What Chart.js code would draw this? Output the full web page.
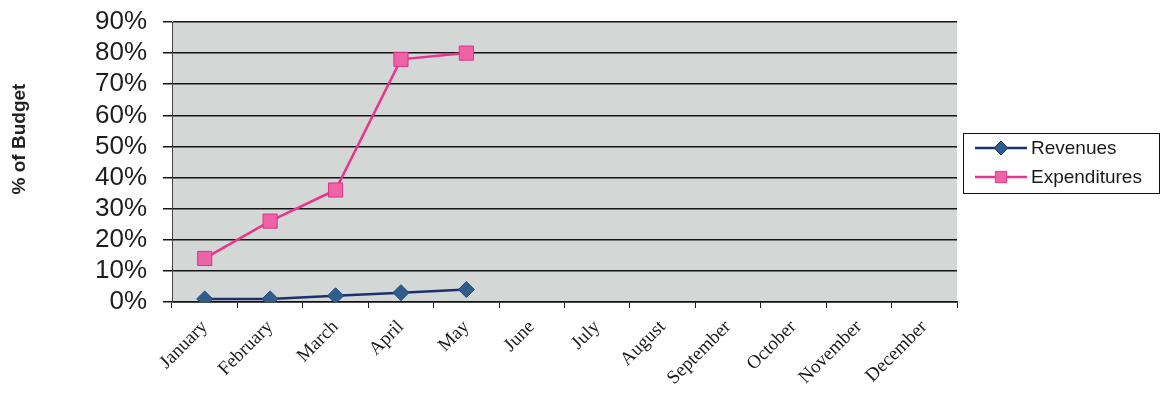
<!DOCTYPE html>
<html>
<head>
<meta charset="utf-8">
<script src="https://cdn.jsdelivr.net/npm/chart.js@4/dist/chart.umd.min.js"></script>
<style>
  html, body { margin: 0; padding: 0; background: #ffffff; }
  #wrap { width: 1161px; height: 394px; }
</style>
</head>
<body>
<div id="wrap"><canvas id="budget" width="1161" height="394"></canvas></div>
<script>
// Monthly budget progress (% of annual budget)
const months = ['January', 'February', 'March', 'April', 'May', 'June', 'July',
  'August', 'September', 'October', 'November', 'December'];
const revenues = [1, 1, 2, 3, 4, null, null, null, null, null, null, null];
const expenditures = [14, 26, 36, 78, 80, null, null, null, null, null, null, null];
const yTicks = [0, 10, 20, 30, 40, 50, 60, 70, 80, 90];
const yTitle = '% of Budget';
const seriesNames = ['Revenues', 'Expenditures'];

const REV_LINE = '#1d2f6c';
const REV_FILL = '#2f5e8d';
const EXP_LINE = '#e8358e';
const EXP_FILL = '#ee62a6';

// Grey plot-area background
const plotBackground = {
  id: 'plotBackground',
  beforeDraw(chart) {
    const { ctx, chartArea: a } = chart;
    ctx.save();
    ctx.fillStyle = '#d3d7d6';
    ctx.fillRect(a.left, a.top, a.right - a.left, a.bottom - a.top);
    ctx.restore();
  }
};

// Vertical axis title and the boxed legend at the right
const sideText = {
  id: 'sideText',
  afterDraw(chart) {
    const { ctx } = chart;
    ctx.save();
    ctx.fillStyle = '#222';
    ctx.font = 'bold 19px "Liberation Sans", Arial, sans-serif';
    ctx.textAlign = 'center';
    ctx.textBaseline = 'middle';
    ctx.translate(20, 139);
    ctx.rotate(-Math.PI / 2);
    ctx.fillText(yTitle, 0, 0);
    ctx.restore();

    // legend
    ctx.save();
    ctx.strokeStyle = '#111';
    ctx.lineWidth = 1;
    ctx.strokeRect(963.5, 133.5, 196, 60);
    const rows = [
      { y: 148, line: REV_LINE, fill: REV_FILL, style: 'rectRot', r: 7, border: REV_LINE },
      { y: 177, line: EXP_LINE, fill: EXP_FILL, style: 'rect', r: 8, border: EXP_LINE }
    ];
    rows.forEach((row, i) => {
      ctx.strokeStyle = row.line;
      ctx.lineWidth = 2.5;
      ctx.beginPath();
      ctx.moveTo(975, row.y);
      ctx.lineTo(1027, row.y);
      ctx.stroke();
      ctx.fillStyle = row.fill;
      ctx.strokeStyle = row.border;
      ctx.lineWidth = 1;
      Chart.helpers.drawPoint(ctx, { pointStyle: row.style, radius: row.r, borderWidth: 1 }, 1001, row.y);
      ctx.fillStyle = '#1a1a1a';
      ctx.font = '19px "Liberation Sans", Arial, sans-serif';
      ctx.textAlign = 'left';
      ctx.textBaseline = 'middle';
      ctx.fillText(seriesNames[i], 1031, row.y + 1);
    });
    ctx.restore();
  }
};

new Chart(document.getElementById('budget'), {
  type: 'line',
  data: {
    labels: months,
    datasets: [
      {
        label: seriesNames[0],
        data: revenues,
        borderColor: REV_LINE,
        borderWidth: 2.5,
        backgroundColor: REV_FILL,
        pointStyle: 'rectRot',
        pointRadius: 8,
        pointHoverRadius: 8,
        pointBorderColor: '#244a78',
        pointBorderWidth: 1,
        pointBackgroundColor: REV_FILL,
        tension: 0,
        spanGaps: false
      },
      {
        label: seriesNames[1],
        data: expenditures,
        borderColor: EXP_LINE,
        borderWidth: 2.5,
        backgroundColor: EXP_FILL,
        pointStyle: 'rect',
        pointRadius: 10,
        pointHoverRadius: 10,
        pointBorderColor: '#e03089',
        pointBorderWidth: 1,
        pointBackgroundColor: EXP_FILL,
        tension: 0,
        spanGaps: false
      }
    ]
  },
  options: {
    responsive: false,
    animation: false,
    devicePixelRatio: 1,
    layout: { padding: { left: 0, right: 204, top: 22, bottom: 0 } },
    plugins: {
      legend: { display: false },
      tooltip: { enabled: false }
    },
    scales: {
      x: {
        offset: true,
        grid: {
          display: true,
          offset: true,
          drawOnChartArea: false,
          drawTicks: true,
          tickLength: 6,
          color: '#222',
          lineWidth: 1
        },
        border: { display: true, color: '#111', width: 1.5 },
        ticks: {
          autoSkip: false,
          maxRotation: 45,
          minRotation: 45,
          padding: 8,
          color: '#1a1a1a',
          font: { family: '"Liberation Serif", "Times New Roman", serif', size: 19 }
        },
        afterFit(scale) { scale.height = 92; }
      },
      y: {
        min: 0,
        max: 90,
        afterBuildTicks(scale) { scale.ticks = yTicks.map(v => ({ value: v })); },
        grid: {
          color: '#151515',
          lineWidth: 1.5,
          drawTicks: true,
          tickLength: 9
        },
        border: { display: true, color: '#444', width: 1 },
        ticks: {
          autoSkip: false,
          padding: 16,
          color: '#1e1e1e',
          font: { family: '"Liberation Sans", Arial, sans-serif', size: 26 },
          callback: v => v + '%'
        },
        afterFit(scale) {
          scale.width = 172;
          scale.paddingTop = 0;
          scale.paddingBottom = 0;
        }
      }
    }
  },
  plugins: [plotBackground, sideText]
});
</script>
</body>
</html>
